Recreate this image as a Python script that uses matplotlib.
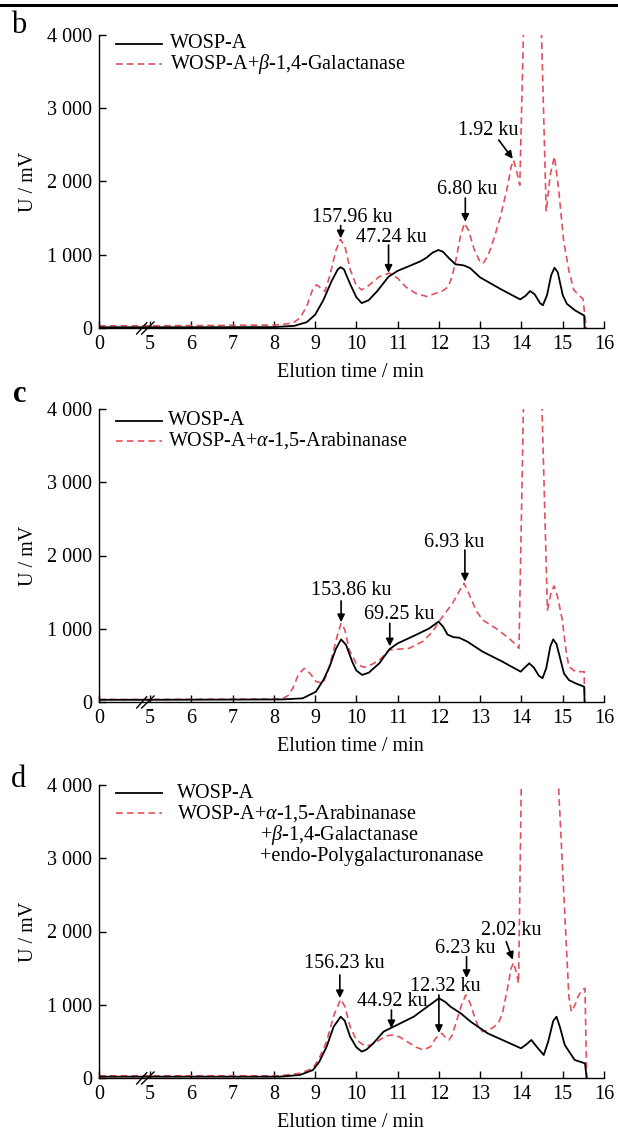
import numpy as np
import matplotlib
matplotlib.use("Agg")
import matplotlib.pyplot as plt
from matplotlib.lines import Line2D
from matplotlib.ticker import FuncFormatter, FixedLocator

plt.rcParams['font.family'] = ['Liberation Serif', 'DejaVu Serif']
plt.rcParams['mathtext.fontset'] = 'custom'
plt.rcParams['mathtext.rm'] = 'Liberation Serif'
plt.rcParams['mathtext.it'] = 'Liberation Serif:italic'

# ---------------- data ----------------
# Panel b
b_black_x = [0, 5, 8.0, 8.5, 8.8, 9.0, 9.2, 9.4, 9.55, 9.62, 9.7, 9.85, 10.0, 10.13, 10.3, 10.5,
             10.78, 11.0, 11.3, 11.55, 11.7, 11.85, 11.99, 12.1, 12.25, 12.4, 12.6, 12.75, 13.0,
             13.5, 13.97, 14.1, 14.21, 14.32, 14.45, 14.52, 14.62, 14.72, 14.80, 14.88, 15.0,
             15.1, 15.3, 15.52, 15.53]
b_black_y = [10, 10, 12, 30, 80, 180, 380, 640, 800, 830, 800, 600, 420, 340, 380, 500,
             700, 780, 850, 910, 960, 1030, 1065, 1040, 950, 870, 855, 820, 690,
             530, 390, 440, 505, 460, 340, 310, 450, 720, 823, 760, 450,
             330, 240, 170, 0]
b_red_x = [0, 5, 8.0, 8.3, 8.47, 8.64, 8.8, 8.95, 9.04, 9.15, 9.24, 9.35, 9.5, 9.61, 9.72, 9.85,
           10.0, 10.13, 10.3, 10.55, 10.8, 11.0, 11.2, 11.45, 11.71, 11.9, 12.1, 12.22, 12.32,
           12.42, 12.52, 12.62, 12.72, 12.85, 13.0, 13.07, 13.2, 13.35, 13.49, 13.65, 13.75,
           13.81, 13.88, 13.96, 14.09, 14.25, 14.44, 14.60, 14.70, 14.80, 14.90, 15.02, 15.15,
           15.27, 15.40, 15.49, 15.57]
b_red_y = [30, 30, 40, 55, 70, 140, 300, 540, 590, 540, 500, 700, 1050, 1210, 1120, 800,
           580, 520, 580, 700, 750, 680, 560, 470, 430, 470, 510, 560, 700,
           950, 1250, 1430, 1330, 1080, 900, 880, 1000, 1250, 1520, 1900, 2200,
           2290, 2150, 1950, 5000, 8000, 5000, 1590, 2100, 2340, 1900, 1200, 780,
           520, 440, 400, 0]

# Panel c
c_black_x = [0, 5, 8.2, 8.7, 9.02, 9.2, 9.35, 9.5, 9.63, 9.75, 9.9, 10.0, 10.14, 10.3, 10.56,
             10.8, 11.0, 11.44, 11.77, 11.99, 12.1, 12.21, 12.35, 12.49, 12.69, 13.06, 13.54,
             13.98, 14.08, 14.19, 14.3, 14.42, 14.51, 14.6, 14.7, 14.77, 14.85, 15.03, 15.15,
             15.31, 15.52, 15.53]
c_black_y = [30, 30, 35, 50, 140, 300, 480, 720, 855, 780, 550, 430, 370, 400, 530,
             720, 800, 915, 1006, 1097, 1030, 920, 885, 878, 824, 687, 551,
             414, 470, 528, 470, 360, 325, 460, 760, 855, 790, 391, 300,
             255, 209, 0]
c_red_x = [0, 5, 8.2, 8.35, 8.46, 8.6, 8.74, 8.88, 9.02, 9.19, 9.3, 9.43, 9.55, 9.63, 9.72,
           9.83, 10.0, 10.19, 10.4, 10.56, 10.8, 11.0, 11.28, 11.6, 11.85, 12.0, 12.33, 12.5,
           12.61, 12.75, 12.9, 13.06, 13.38, 13.70, 13.85, 13.94, 14.08, 14.25, 14.45, 14.63,
           14.72, 14.79, 14.87, 14.99, 15.08, 15.15, 15.31, 15.52, 15.53]
c_red_y = [35, 35, 40, 90, 187, 380, 460, 390, 280, 255, 400, 664, 930, 1074, 990,
           710, 520, 473, 520, 573, 710, 720, 733, 824, 960, 1097, 1347, 1520,
           1620, 1450, 1250, 1119, 1006, 869, 790, 733, 5000, 8000, 5000, 1256,
           1500, 1584, 1450, 1119, 700, 482, 414, 414, 0]

# Panel d
d_black_x = [0, 5, 8.14, 8.63, 8.95, 9.1, 9.28, 9.45, 9.62, 9.72, 9.85, 10.0, 10.13, 10.25,
             10.41, 10.66, 10.90, 11.39, 11.72, 12.0, 12.15, 12.28, 12.53, 12.77, 13.18, 13.99,
             14.12, 14.24, 14.35, 14.54, 14.65, 14.77, 14.85, 14.93, 15.05, 15.29, 15.54, 15.58]
d_black_y = [18, 18, 18, 41, 109, 220, 428, 700, 837, 780, 564, 420, 360, 390,
             473, 633, 700, 837, 974, 1088, 1040, 974, 883, 769, 610, 405,
             460, 519, 440, 314, 500, 780, 837, 700, 450, 246, 200, 0]
d_red_x = [0, 5, 8.14, 8.63, 8.95, 9.1, 9.28, 9.45, 9.62, 9.72, 9.85, 10.0, 10.21, 10.35,
           10.50, 10.70, 10.86, 11.05, 11.23, 11.45, 11.63, 11.8, 11.92, 12.07, 12.15, 12.24,
           12.32, 12.41, 12.55, 12.65, 12.75, 12.85, 12.95, 13.06, 13.2, 13.34, 13.45, 13.54,
           13.67, 13.75, 13.81, 13.87, 13.93, 14.02, 14.4, 14.87, 15.15, 15.21, 15.30, 15.37,
           15.46, 15.54, 15.58]
d_red_y = [30, 30, 30, 64, 132, 270, 496, 850, 1074, 980, 700, 520, 437, 450,
           496, 570, 587, 560, 496, 420, 382, 430, 542, 610, 560, 519,
           580, 746, 1000, 1133, 1030, 860, 700, 633, 650, 700, 760, 883,
           1247, 1500, 1575, 1450, 1292, 5000, 9000, 4300, 1100, 906, 1000, 1110,
           1200, 1224, 0]

x_ticks = [0, 5, 6, 7, 8, 9, 10, 11, 12, 13, 14, 15, 16]
y_ticks = [0, 1000, 2000, 3000, 4000]

panel_letters = ['b', 'c', 'd']
legend_first = 'WOSP-A'
legend_second = [
    ['WOSP-A+$\\mathit{β}$-1,4-Galactanase'],
    ['WOSP-A+$\\mathit{α}$-1,5-Arabinanase'],
    ['WOSP-A+$\\mathit{α}$-1,5-Arabinanase', '+$\\mathit{β}$-1,4-Galactanase',
     '+endo-Polygalacturonanase'],
]

# annotations: (label, text_x, text_y, tail_x, tail_y, tip_x, tip_y)
ann_b = [('157.96 ku', 9.90, 1502, 9.62, 1400, 9.62, 1225),
         ('47.24 ku', 10.86, 1229, 10.78, 1133, 10.78, 755),
         ('6.80 ku', 12.68, 1884, 12.64, 1775, 12.64, 1450),
         ('1.92 ku', 13.19, 2703, 13.45, 2566, 13.79, 2310)]
ann_c = [('153.86 ku', 9.87, 1519, 9.63, 1380, 9.63, 1090),
         ('69.25 ku', 11.04, 1188, 10.81, 1074, 10.81, 760),
         ('6.93 ku', 12.37, 2180, 12.63, 2075, 12.63, 1645)]
ann_d = [('156.23 ku', 9.72, 1565, 9.60, 1406, 9.60, 1090),
         ('44.92 ku', 10.86, 1042, 10.85, 928, 10.85, 680),
         ('12.32 ku', 12.16, 1247, 12.0, 1133, 12.0, 615),
         ('6.23 ku', 12.65, 1770, 12.67, 1656, 12.67, 1365),
         ('2.02 ku', 13.75, 2011, 13.63, 1861, 13.79, 1615)]

series = [(b_black_x, b_black_y, b_red_x, b_red_y, ann_b),
          (c_black_x, c_black_y, c_red_x, c_red_y, ann_c),
          (d_black_x, d_black_y, d_red_x, d_red_y, ann_d)]

# ---------------- layout ----------------
W, H = 618, 1131
fig = plt.figure(figsize=(W / 100, H / 100), dpi=100)
FS = 14.5
RED = '#e3505c'

SEG = 1.235  # displayed width of the 0-5 segment


def fwd(x):
    x = np.asarray(x, dtype=float)
    return np.where(x <= 5, x * SEG / 5, SEG + (x - 5))


def inv(u):
    u = np.asarray(u, dtype=float)
    return np.where(u <= SEG, u * 5 / SEG, u - SEG + 5)


ax_left, ax_right = 99, 604
tops = [35, 409, 785]
bottoms = [328, 702, 1078]
letter_pos = [(11, 33, 'normal'), (13, 402, 'bold'), (11, 787, 'normal')]
leg_rows = [(44, 64, 170), (420.5, 440.5, 168), (793.3, 813.3, 176.7)]

for i, (bx, by, rx, ry, anns) in enumerate(series):
    ax = fig.add_axes([ax_left / W, 1 - bottoms[i] / H, (ax_right - ax_left) / W,
                       (bottoms[i] - tops[i]) / H])
    ax.set_xscale('function', functions=(fwd, inv))
    ax.plot(bx, by, color='black', lw=1.3, zorder=3)
    ax.plot(rx, ry, color=RED, lw=1.2, linestyle=(0, (4, 2.5)), zorder=2)
    ax.set_xlim(0, 16)
    ax.set_ylim(0, 4000)
    for s in ['top', 'right']:
        ax.spines[s].set_visible(False)
    for s in ['left', 'bottom']:
        ax.spines[s].set_linewidth(1.0)
    ax.xaxis.set_major_locator(FixedLocator(x_ticks))
    ax.xaxis.set_minor_locator(FixedLocator([]))
    ax.set_xticklabels([str(t) for t in x_ticks])
    ax.yaxis.set_major_locator(FixedLocator(y_ticks))
    ax.yaxis.set_major_formatter(FuncFormatter(lambda v, p: f'{int(v):,}'.replace(',', ' ')))
    ax.tick_params(axis='both', direction='in', length=5, width=1.0, labelsize=FS)
    ax.tick_params(axis='x', pad=5)
    ax.tick_params(axis='y', pad=5)
    ax.set_xlabel('Elution time / min', fontsize=FS)
    ax.xaxis.set_label_coords(0.497, -0.118)
    ax.set_ylabel('U / mV', fontsize=FS)
    ax.yaxis.set_label_coords(-0.12, 0.5)
    ax.patch.set_alpha(0)

    # axis break marks
    for (x0, y0, x1, y1) in [(136.7, 334, 146.7, 322.7), (141.7, 334, 154, 322)]:
        ax.plot([(x0 - ax_left) / (ax_right - ax_left), (x1 - ax_left) / (ax_right - ax_left)],
                [(328 - y0) / 293, (328 - y1) / 293],
                transform=ax.transAxes, color='black', lw=1.0, clip_on=False, zorder=5)

    # annotations
    for (lab, tx, ty, ax0, ay0, ax1, ay1) in anns:
        ax.annotate('', xy=(ax1, ay1), xytext=(ax0, ay0),
                    arrowprops=dict(arrowstyle='-|>', color='black', lw=1.2,
                                    mutation_scale=11, shrinkA=0, shrinkB=0), zorder=6)
        ax.text(tx, ty, lab, ha='center', va='center', fontsize=FS, zorder=7)

    # legend
    yb, yr, tx = leg_rows[i]
    fx0, fx1 = 116 / W, 162 / W
    fig.add_artist(Line2D([fx0, fx1], [1 - yb / H] * 2, color='black', lw=1.3))
    fig.add_artist(Line2D([fx0, fx1], [1 - yr / H] * 2, color=RED, lw=1.2,
                          linestyle=(0, (4, 2.5))))
    fig.text(tx / W, 1 - yb / H, legend_first, ha='left', va='center', fontsize=FS)
    lines2 = legend_second[i]
    fig.text(tx / W, 1 - yr / H, lines2[0], ha='left', va='center', fontsize=FS)
    for k, extra in enumerate(lines2[1:]):
        fig.text(260 / W, 1 - (yr + 21.5 * (k + 1)) / H, extra, ha='left', va='center',
                 fontsize=FS)

    lx, ly, wt = letter_pos[i]
    fig.text(lx / W, 1 - ly / H, panel_letters[i], ha='left', va='baseline',
             fontsize=22, fontweight=wt)

# top rule
fig.add_artist(Line2D([0, 1], [1 - 5 / H] * 2, color='black', lw=2.2))

fig.savefig('out.png', dpi=100)
